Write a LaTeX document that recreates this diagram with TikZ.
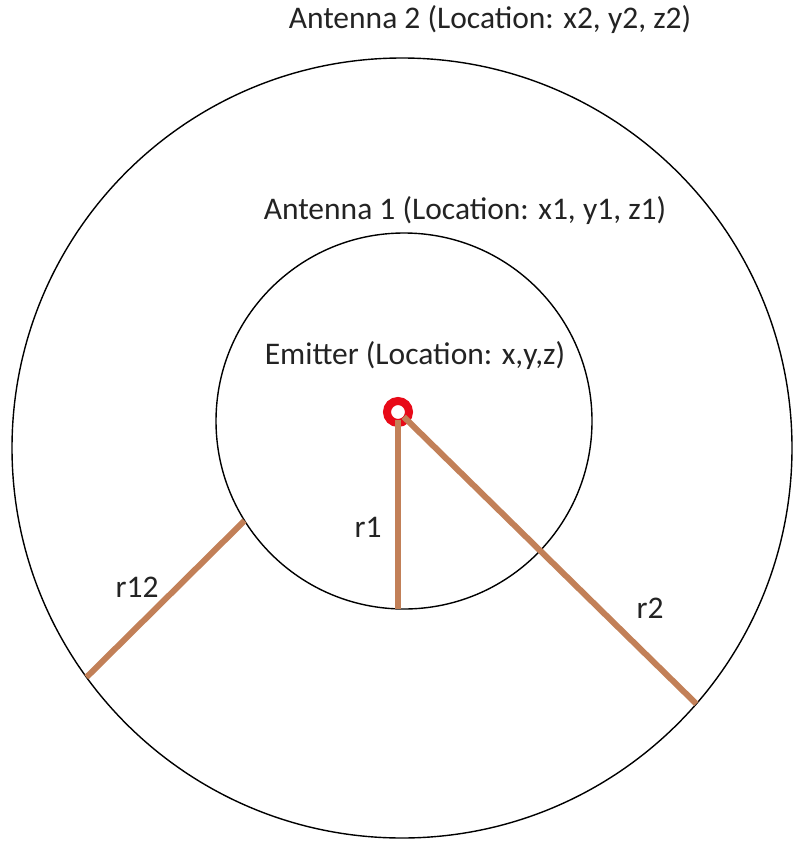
\documentclass[tikz,border=0pt]{standalone}
\usepackage{fontspec}
\setmainfont{Carlito}
\definecolor{cabo}{RGB}{194,128,88}
\definecolor{vermelho}{RGB}{232,10,24}
\definecolor{texto}{RGB}{35,35,35}
\tikzset{
  rotulo/.style={text=texto, font=\fontsize{31.5}{36}\selectfont, inner sep=0pt},
  raio/.style={cabo, line width=6pt},
  antena/.style={circle, draw, line width=1.4pt, inner sep=0pt, outer sep=0pt}
}
\begin{document}
\begin{tikzpicture}[x=1pt, y=-1pt]
        \useasboundingbox (0,0) rectangle (793,843);

        % Circulos das antenas
        \node[antena, minimum size=780pt] (ant2) at (402,448) {};
        \node[antena, minimum size=376pt] (ant1) at (404,421) {};

        % Emissor
        \node[circle, draw=vermelho, line width=8pt, minimum size=22pt,
              inner sep=0pt, outer sep=-3.5pt] (emit) at (398,412) {};

        % Raios
        \draw[raio] (emit.-90) -- (emit.-90 |- ant1.south);
        \draw[raio] (emit.-40) -- (ant2.-41.1);
        \draw[raio] (ant1.212.4) -- (ant2.216.2);

        % Textos
        \node[rotulo] (txt2) at (490,20) {Antenna 2 (Location: x2, y2, z2)};
        \node[rotulo] (txt1) at (465,211) {Antenna 1 (Location: x1, y1, z1)};
        \node[rotulo] (txtE) at (415,356) {Emitter (Location: x,y,z)};

        % Identificacao dos raios
        \node[rotulo] (lr1) at (368,527) {r1};
        \node[rotulo] (lr2) at (650,608) {r2};
        \node[rotulo] (lr12) at (137,587) {r12};
\end{tikzpicture}
\end{document}
